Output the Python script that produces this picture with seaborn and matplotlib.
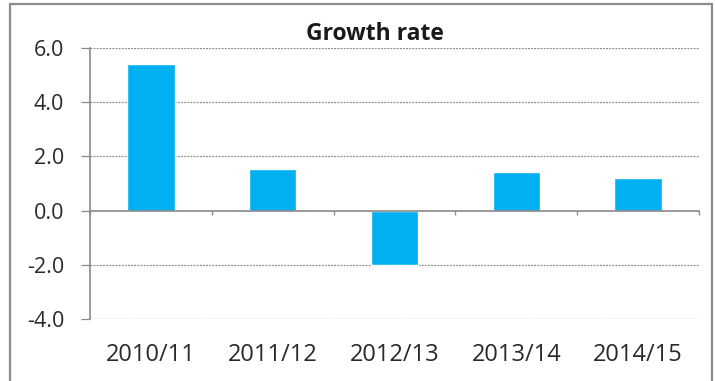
import matplotlib
matplotlib.use("Agg")
import matplotlib.pyplot as plt
import seaborn as sns
import pandas as pd
from matplotlib.patches import Rectangle

categories = ["2010/11", "2011/12", "2012/13", "2013/14", "2014/15"]
values = [5.4, 1.55, -2.02, 1.43, 1.22]
yticks = [-4.0, -2.0, 0.0, 2.0, 4.0, 6.0]
title = "Growth rate"

sns.set_theme(style="white")
plt.rcParams["font.family"] = ["Open Sans", "DejaVu Sans"]

df = pd.DataFrame({"period": categories, "growth": values})

fig = plt.figure(figsize=(7.15, 3.81), dpi=100)
ax = fig.add_axes([90/715, 1-319/381, (699-90)/715, (319-48)/381])

sns.barplot(data=df, x="period", y="growth", color="#00B0F0", width=0.39,
            saturation=1, ax=ax, zorder=3)

ax.set_ylim(-4, 6)
ax.set_xlim(-0.5, len(categories) - 0.5)
ax.set_yticks(yticks)
ax.set_yticklabels([f"{v:.1f}" for v in yticks], fontsize=15.5, color="#2a2a2a")
ax.set_xlabel("")
ax.set_ylabel("")

# gridlines
for v in yticks:
    if v != 0:
        ax.axhline(v, color="#8a8a8a", linestyle=(0, (1.5, 1)), linewidth=0.9, zorder=1)

for s in ["top", "right"]:
    ax.spines[s].set_visible(False)
ax.spines["left"].set_color("#8a8a8a")
ax.spines["left"].set_linewidth(1.2)
ax.spines["bottom"].set_position(("data", 0))
ax.spines["bottom"].set_color("#8a8a8a")
ax.spines["bottom"].set_linewidth(1.2)
ax.spines["bottom"].set_zorder(4)

ax.tick_params(axis="y", direction="out", length=6.5, width=0.9, color="#8a8a8a",
               left=True, pad=12)
ax.set_xticks(range(len(categories)))
ax.set_xticklabels(categories, fontsize=17, color="#2a2a2a")
ax.set_xticks([i - 0.5 for i in range(len(categories) + 1)], minor=True)
ax.tick_params(axis="x", which="major", length=0, pad=95)
ax.tick_params(axis="x", which="minor", direction="out", length=3, width=1,
               color="#8a8a8a", bottom=True)

ax.set_title(title, fontsize=16.5, fontweight="bold", color="#1a1a1a",
             x=(375-90)/609, pad=6)

fig.patches.append(Rectangle((10/715, -0.05), (712-10)/715, 1.05 - 4/381,
                             transform=fig.transFigure, fill=False,
                             edgecolor="#8c8c8c", linewidth=1.6))

fig.savefig("out.png", dpi=100)
